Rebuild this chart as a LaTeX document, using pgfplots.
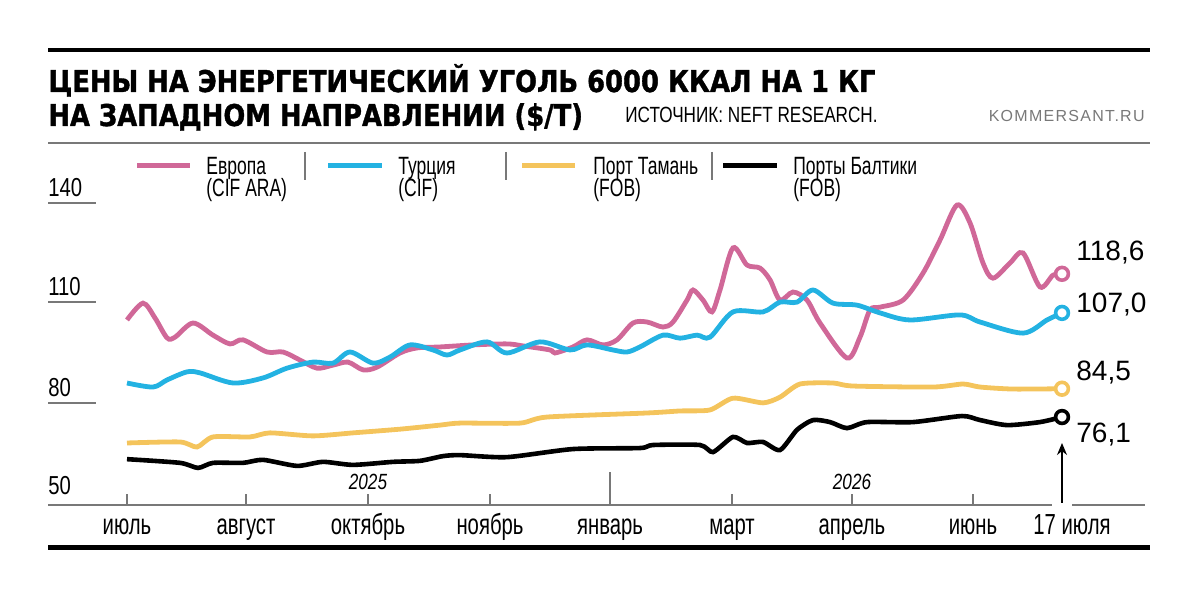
\documentclass[border=0pt]{standalone}
\usepackage{pgfplots}
\pgfplotsset{compat=1.18}
\usepackage{pgfplotstable}
\usepackage{fontspec}
\usetikzlibrary{arrows.meta}
\setmainfont{Liberation Sans}
\newfontfamily\cond{Liberation Sans}[FakeStretch=0.78]
\newfontfamily\narr{Liberation Sans}[FakeStretch=0.70]
\newfontfamily\titlef{DejaVu Sans}[FakeStretch=0.86, FakeBold=1.2]
\definecolor{cpink}{RGB}{208,104,152}
\definecolor{cblue}{RGB}{35,178,226}
\definecolor{cyellow}{RGB}{244,196,92}
\definecolor{cgray}{RGB}{120,120,120}

% x: position along the time axis (ticks: июль=127 ... июнь=973, 17 июля=1062)
\pgfplotstableread{
x y
127 104.9
143 109.9
155 105.5
167 99.6
175 99.8
193 104.0
213 100.4
230 97.8
243 99.0
267 95.4
283 95.4
300 93.0
317 90.6
333 91.5
348 92.4
363 90.1
377 90.9
400 95.1
417 96.6
440 96.9
473 97.5
507 97.8
523 97.2
550 96.0
555 95.1
573 96.9
587 99.0
603 97.5
617 99.0
633 104.0
647 104.3
663 102.8
673 104.3
687 110.8
693 113.8
703 110.8
712 107.3
720 113.8
733 126.3
747 121.2
760 120.3
770 116.8
780 110.8
793 113.2
807 110.8
820 104.0
847 93.6
860 99.8
870 107.9
880 108.7
903 110.8
923 118.8
940 128.6
957 139.0
970 133.7
983 121.8
993 117.3
1010 121.8
1023 124.8
1040 114.7
1053 118.2
1062 118.6
}\europe

\pgfplotstableread{
x y
127 86.2
153 85.0
167 87.1
187 89.5
200 89.2
233 86.2
263 87.7
287 90.6
313 92.4
333 92.1
350 95.4
373 92.1
390 93.9
410 97.5
433 96.0
447 94.5
460 96.0
487 98.4
507 95.1
540 98.4
570 96.0
587 97.5
613 96.0
627 95.4
640 96.9
663 100.4
680 99.5
697 100.4
710 99.8
733 107.3
763 107.3
780 110.2
797 110.2
813 113.8
833 109.9
857 109.3
880 107.0
910 104.9
960 106.4
980 104.3
1023 101.0
1047 104.9
1062 107.0
}\turkey

\pgfplotstableread{
x y
127 68.4
180 68.7
197 67.2
213 70.2
250 70.2
270 71.4
313 70.5
353 71.4
400 72.5
440 73.7
460 74.3
520 74.3
547 76.1
647 77.3
680 77.9
710 78.2
733 81.7
763 80.3
780 82.0
800 85.9
833 86.2
853 85.3
933 85.0
963 85.9
980 85.0
1013 84.4
1062 84.5
}\taman

\pgfplotstableread{
x y
127 63.6
180 62.5
198 61.0
213 62.5
243 62.5
263 63.4
297 61.6
323 62.8
353 61.9
393 62.8
420 63.1
443 64.5
460 64.8
507 64.2
573 66.6
640 66.9
653 67.8
700 67.8
713 65.7
733 70.2
747 68.4
763 68.7
780 66.3
797 72.3
813 75.2
830 74.6
847 72.8
867 74.6
913 74.6
962 76.4
980 75.2
1007 73.7
1040 74.6
1062 76.1
}\baltic

\begin{document}
\begin{tikzpicture}
\useasboundingbox (0,0) rectangle (600pt,308pt);
\begin{axis}[at={(0,0)}, anchor=south west, width=600pt, height=308pt,
  scale only axis, xmin=0, xmax=1200, ymin=17.06, ymax=199.85,
  hide axis, clip=false]
\addplot[cyellow, line width=2.4pt, smooth, tension=0.4] table {\taman};
\addplot[black, line width=2.3pt, smooth, tension=0.4] table {\baltic};
\addplot[cpink, line width=2.4pt, smooth, tension=0.5] table {\europe};
\addplot[cblue, line width=2.4pt, smooth, tension=0.5] table {\turkey};
\addplot[only marks, mark=*, mark size=3.2pt, mark options={draw=cpink, fill=white, line width=1.8pt}] coordinates {(1062,118.6)};
\addplot[only marks, mark=*, mark size=3.2pt, mark options={draw=cblue, fill=white, line width=1.8pt}] coordinates {(1062,107.0)};
\addplot[only marks, mark=*, mark size=3.2pt, mark options={draw=cyellow, fill=white, line width=1.8pt}] coordinates {(1062,84.5)};
\addplot[only marks, mark=*, mark size=3.2pt, mark options={draw=black, fill=white, line width=1.8pt}] coordinates {(1062,76.1)};
\end{axis}
\begin{scope}[shift={(0pt,308pt)}, x=0.5pt, y=-0.5pt]
% rules
\draw[line width=2pt] (48,50) -- (1150,50);
\draw[cgray, line width=1pt] (48,143) -- (1150,143);
\draw[line width=2.5pt] (48,548) -- (1150,548);
% title
\node[anchor=base west, inner sep=0] at (48,92) {\titlef\bfseries\fontsize{15}{15}\selectfont ЦЕНЫ НА ЭНЕРГЕТИЧЕСКИЙ УГОЛЬ 6000 ККАЛ НА 1 КГ};
\node[anchor=base west, inner sep=0] at (48,126) {\titlef\bfseries\fontsize{15}{15}\selectfont НА ЗАПАДНОМ НАПРАВЛЕНИИ (\$/Т)};
\node[anchor=base west, inner sep=0] at (625,123) {\cond\fontsize{11}{11}\selectfont ИСТОЧНИК: NEFT RESEARCH.};
\node[anchor=base east, inner sep=0, text=cgray] at (1145,122) {\fontsize{8}{8}\selectfont\addfontfeatures{LetterSpace=8}KOMMERSANT.RU};
% legend
\draw[cpink, line width=2.5pt] (137,166) -- (190,166);
\draw[cblue, line width=2.5pt] (328,166) -- (382,166);
\draw[cyellow, line width=2.5pt] (522,166) -- (575,166);
\draw[black, line width=2.5pt] (723,166) -- (777,166);
\foreach \sx in {305,506,712} \draw[cgray, line width=0.6pt] (\sx,152) -- (\sx,180);
\begin{scope}[every node/.style={anchor=base west, inner sep=0, font=\narr\fontsize{12.5}{12.5}\selectfont}]
\node at (206,175) {Европа}; \node at (206,197) {(CIF ARA)};
\node at (398,175) {Турция}; \node at (398,197) {(CIF)};
\node at (593,175) {Порт Тамань}; \node at (593,197) {(FOB)};
\node at (793,175) {Порты Балтики}; \node at (793,197) {(FOB)};
\end{scope}
% y labels
\begin{scope}[every node/.style={anchor=base west, inner sep=0, font=\cond\fontsize{13}{13}\selectfont}]
\node at (48,197) {140}; \node at (48,296) {110}; \node at (48,397) {80}; \node at (48,495) {50};
\end{scope}
\foreach \yy in {203,302,403} \draw[cgray, line width=0.7pt] (48,\yy) -- (96,\yy);
% x axis
\draw[cgray, line width=0.8pt] (48,505) -- (1052,505);
\draw[cgray, line width=0.8pt] (1072,505) -- (1145,505);
\foreach \tx in {127,246,368,490,732,852,973} \draw[cgray, line width=0.8pt] (\tx,505) -- (\tx,494);
\draw[cgray, line width=0.8pt] (610,505) -- (610,472);
\begin{scope}[every node/.style={anchor=base, inner sep=0, font=\narr\fontsize{14.5}{14.5}\selectfont}]
\node at (127,535) {июль};
\node at (246,535) {август};
\node at (368,535) {октябрь};
\node at (490,535) {ноябрь};
\node at (610,535) {январь};
\node at (732,535) {март};
\node at (852,535) {апрель};
\node at (973,535) {июнь};
\node at (1072,535) {17 июля};
\end{scope}
\node[anchor=base, inner sep=0, font=\cond\itshape\fontsize{11}{11}\selectfont] at (368,490) {2025};
\node[anchor=base, inner sep=0, font=\cond\itshape\fontsize{11}{11}\selectfont] at (852,490) {2026};
% arrow
\draw[-{Stealth[length=6pt,width=5pt]}, line width=0.7pt] (1062,503) -- (1062,443);
% end values
\begin{scope}[every node/.style={anchor=base west, inner sep=0, font=\fontsize{14}{14}\selectfont}]
\node at (1076,261) {118,6};
\node at (1076,313) {107,0};
\node at (1076,381) {84,5};
\node at (1076,443) {76,1};
\end{scope}
\end{scope}
\end{tikzpicture}
\end{document}
